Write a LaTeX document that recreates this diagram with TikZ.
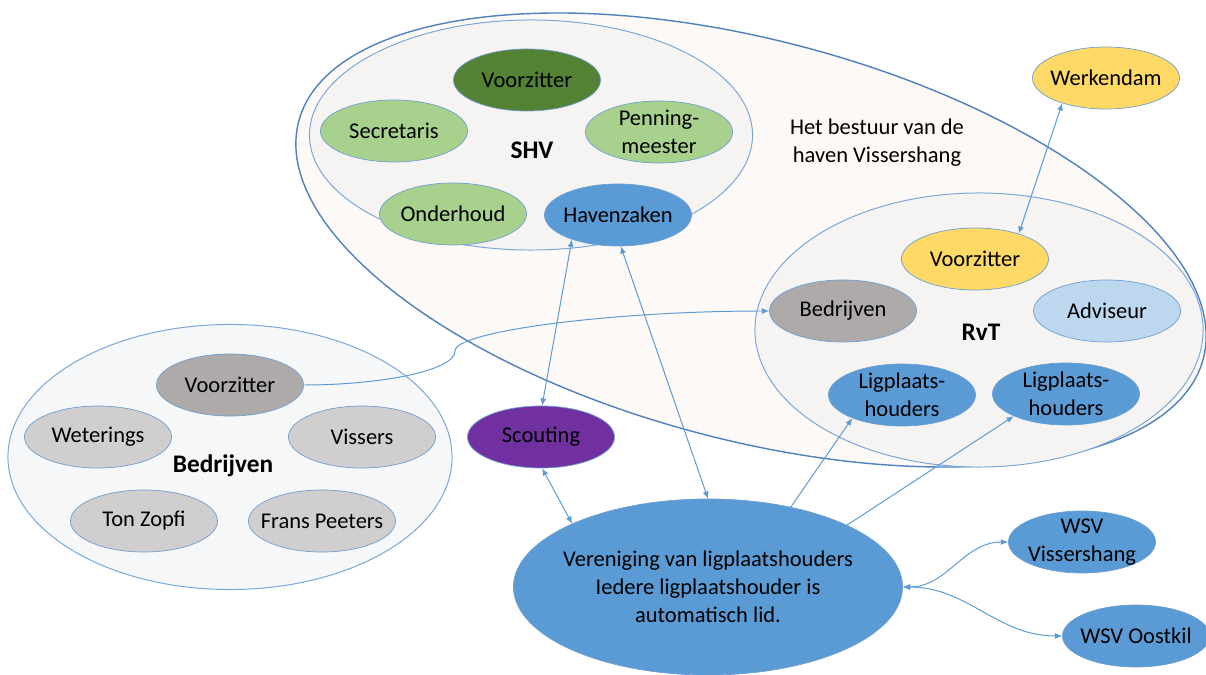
\documentclass[tikz,border=0pt]{standalone}
\usepackage{fontspec}
\setmainfont{Carlito}
\usetikzlibrary{shapes.geometric,arrows.meta}
\definecolor{lineblue}{HTML}{5B9BD5}
\definecolor{outline}{HTML}{4F81BD}
\definecolor{grpline}{HTML}{7AA7D8}
\definecolor{bubline}{HTML}{6F9FD0}
\definecolor{cream}{HTML}{FCF9F6}
\definecolor{grpfill}{HTML}{F6F4F2}
\definecolor{bedrfill}{HTML}{F6F7F8}
\definecolor{dkgreen}{HTML}{548235}
\definecolor{ltgreen}{HTML}{A9D18E}
\definecolor{accblue}{HTML}{5B9BD5}
\definecolor{yellow}{HTML}{FFD966}
\definecolor{midgray}{HTML}{AEAAAA}
\definecolor{ltgray}{HTML}{D0CECE}
\definecolor{ltblue}{HTML}{BDD7EE}
\definecolor{purple}{HTML}{7030A0}
\newcommand\bubfont{\fontsize{16}{19.8}\selectfont}
\newcommand\grpfont{\fontsize{18}{21}\selectfont\bfseries}
\begin{document}
\begin{tikzpicture}[x=0.025cm,y=-0.025cm,
  grp/.style={ellipse,draw=grpline,line width=0.7pt,inner sep=0pt},
  bubble/.style={ellipse,fill=#1,draw=bubline,line width=0.5pt,inner sep=-3mm,
    minimum width=3.675cm,minimum height=1.55cm,align=center,font=\bubfont},
  grplbl/.style={inner sep=1pt,font=\grpfont},
  conn/.style={draw=lineblue,line width=0.7pt},
  >={Latex[length=1.8mm,width=1.5mm]}]
\useasboundingbox (0,0) rectangle (1206,675);
\node[grp,draw=outline,line width=1pt,fill=cream,minimum width=23.375cm,minimum height=10cm,rotate=-14.7] (bestuur) at (751,240) {};
\node[grp,fill=grpfill,minimum width=11.075cm,minimum height=5.75cm] (shv) at (531,135) {};
\node[grp,fill=grpfill,minimum width=11.2cm,minimum height=6.85cm] (rvt) at (979,330) {};
\node[grp,fill=bedrfill,minimum width=11.1cm,minimum height=6.625cm] (bedr) at (230,457) {};
\node[inner sep=1pt,align=center,font=\bubfont] (bestuurtxt) at (877,143) {Het bestuur van de\\haven Vissershang};
\node[grplbl] (shvlbl) at (532,150) {SHV};
\node[grplbl] (rvtlbl) at (981,332) {RvT};
\node[grplbl] (bedrlbl) at (223,466) {Bedrijven};
\node[bubble=dkgreen] (shvvz) at (527,80) {Voorzitter};
\node[bubble=ltgreen] (secr) at (394,131) {Secretaris};
\node[bubble=ltgreen] (penn) at (659,132) {Penning-\\meester};
\node[bubble=ltgreen] (onderh) at (453,214) {Onderhoud};
\node[bubble=accblue] (haven) at (618,215) {Havenzaken};
\node[bubble=yellow] (werk) at (1106,78) {Werkendam};
\node[bubble=yellow] (rvtvz) at (975,259) {Voorzitter};
\node[bubble=midgray] (rvtbedr) at (843,311) {Bedrijven};
\node[bubble=ltblue] (advis) at (1107,311) {Adviseur};
\node[bubble=accblue] (lig1) at (902,395) {Ligplaats-\\houders};
\node[bubble=accblue] (lig2) at (1066,394) {Ligplaats-\\houders};
\node[bubble=midgray] (bedrvz) at (230,385) {Voorzitter};
\node[bubble=ltgray] (weter) at (98,437) {Weterings};
\node[bubble=ltgray] (viss) at (362,437) {Vissers};
\node[bubble=ltgray] (tonz) at (144,521) {Ton Zopfi};
\node[bubble=ltgray] (frans) at (322,521) {Frans Peeters};
\node[bubble=purple] (scout) at (541,437) {Scouting};
\node[bubble=accblue,minimum width=9.725cm,minimum height=4.4cm] (ver) at (708,587) {Vereniging van ligplaatshouders\\Iedere ligplaatshouder is\\automatisch lid.};
\node[bubble=accblue] (wsvv) at (1082,542) {WSV\\Vissershang};
\node[bubble=accblue] (wsvo) at (1136,636) {WSV Oostkil};
\coordinate (kink) at (455,351);
\draw[conn,<->] (werk.210) -- (rvtvz.30);
\draw[conn,<->] (haven.208) -- (scout.88);
\draw[conn,<->] (haven.275) -- (ver.90);
\draw[conn,<->] (scout.272) -- (ver.155);
\draw[conn,->] (ver.44) -- (lig1.205);
\draw[conn,->] (ver.24) -- (lig2.203);
\draw[conn,->] (bedrvz.east) .. controls +(75,0) and +(0,20) .. (kink) .. controls +(0,-20) and +(-155,0) .. (rvtbedr.west);
\draw[conn,<->] (ver.east) to[out=0,in=180] (wsvv.west);
\draw[conn,<->] (ver.east) to[out=0,in=180] (wsvo.west);
\end{tikzpicture}
\end{document}
